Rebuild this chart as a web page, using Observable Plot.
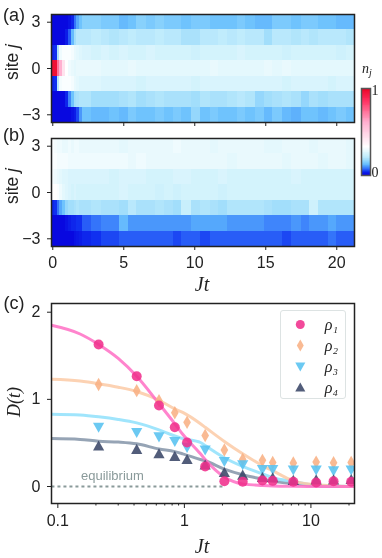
<!DOCTYPE html>
<html><head><meta charset="utf-8">
<script src="https://cdn.jsdelivr.net/npm/d3@7"></script>
<script src="https://cdn.jsdelivr.net/npm/@observablehq/plot@0.6"></script>
<style>
html,body{margin:0;padding:0;background:#fff;overflow:hidden}
#page{position:relative;width:382px;height:558px;overflow:hidden;color:#222;font-family:"Liberation Sans",sans-serif;filter:blur(.4px);background:#fff}
#page svg{position:absolute}
.lab{position:absolute;white-space:nowrap;line-height:1;transform:translate(-50%,-50%)}
.rot{transform:translate(-50%,-50%) rotate(-90deg)}
.serif{font-family:"Liberation Serif",serif;font-style:italic}
#legendBox{position:absolute;left:280px;top:310px;width:64px;height:87px;border:1.4px solid #dde3e3;border-radius:3px;background:rgba(255,255,255,.8)}
</style></head><body><div id="page">
<div class="lab" style="left:14px;top:15px;font-size:18px">(a)</div>
<div class="lab" style="left:14px;top:135px;font-size:18px">(b)</div>
<div class="lab" style="left:14px;top:303px;font-size:18px">(c)</div>
<div class="lab rot" style="left:13px;top:62px;font-size:17.5px">site <i>j</i></div>
<div class="lab rot" style="left:13px;top:186px;font-size:17.5px">site <i>j</i></div>
<div class="lab serif" style="left:202px;top:284px;font-size:20px">Jt</div>
<div class="lab rot serif" style="left:14px;top:402px;font-size:18px">D(t)</div>
<div class="lab serif" style="left:202px;top:546px;font-size:20px">Jt</div>
<div class="lab serif" style="left:367px;top:70px;font-size:14px">n<sub style="font-size:10px">j</sub></div>
<div id="legendBox"></div>
</div>
<script>
// ---- heat maps: cell edges in Jt, then one list of n_j per site
const cellEdges = [-0.1,0.1,0.3,0.5,0.7,0.9,1.1,1.3,1.5,1.7,1.9,2.1,2.7,3.4,4,4.7,5.3,5.9,6.6,7.2,7.9,8.5,9.1,9.8,10.4,11.1,11.7,12.3,13,13.6,14.3,14.9,15.5,16.2,16.8,17.5,18.1,18.7,19.4,20,20.7,21.4];
const sites = [3,2,1,0,-1,-2,-3];
const siteTicks = [3,0,-3];
const timeTicks = [0,5,10,15,20];

const a3  = [0,0,0,0,0,0,.01,.03,.07,.10,.13, .15,.15,.14,.14,.12,.13,.15,.14,.15,.14,.14,.13,.14,.14,.13,.13,.13,.14,.13,.12,.12,.14,.14,.13,.14,.14,.13,.13,.12,.12];
const a2  = [0,0,0,0,0,.02,.06,.12,.17,.2,.2, .20,.21,.20,.19,.2,.21,.2,.2,.21,.2,.2,.18,.18,.2,.2,.21,.2,.21,.2,.2,.17,.2,.2,.19,.2,.19,.2,.2,.2,.19];
const a1  = [.03,.04,.18,.29,.31,.31,.31,.3,.28,.27,.26, .25,.24,.25,.24,.25,.24,.24,.25,.24,.24,.24,.24,.23,.24,.24,.24,.24,.25,.24,.24,.24,.24,.23,.24,.24,.24,.24,.24,.23,.24];
const a0  = [.95,.95,.72,.6,.42,.32,.29,.28,.27,.28,.28, .28,.28,.27,.27,.27,.28,.27,.27,.27,.27,.27,.27,.27,.27,.28,.27,.27,.27,.27,.27,.28,.27,.28,.27,.27,.27,.27,.27,.27,.27];
const am1 = [.03,.04,.2,.3,.31,.31,.31,.3,.28,.27,.26, .26,.26,.25,.25,.25,.25,.24,.25,.25,.25,.25,.25,.24,.25,.25,.25,.25,.25,.25,.25,.25,.25,.24,.25,.25,.25,.25,.24,.25,.25];
const am2 = [0,0,0,0,0,.03,.08,.13,.17,.18,.19, .19,.17,.17,.17,.18,.19,.17,.18,.19,.18,.18,.18,.17,.19,.18,.18,.19,.2,.19,.16,.17,.18,.19,.18,.16,.18,.17,.18,.18,.18];
const am3 = [0,0,0,0,0,0,0,.01,.02,.05,.09, .13,.12,.12,.13,.12,.14,.13,.13,.14,.13,.14,.13,.16,.13,.14,.13,.13,.14,.13,.14,.12,.14,.12,.11,.13,.13,.12,.13,.14,.13];

const b3  = [.31,.3,.29,.29,.28,.28,.29,.28,.29,.29,.28, .28,.28,.28,.28,.27,.28,.28,.28,.28,.28,.29,.28,.28,.28,.27,.28,.28,.28,.28,.28,.27,.27,.28,.28,.28,.27,.28,.28,.28,.27];
const b2  = [.31,.31,.3,.3,.3,.3,.29,.29,.29,.29,.29, .29,.29,.29,.29,.29,.28,.29,.28,.28,.28,.28,.28,.28,.28,.28,.28,.27,.28,.28,.28,.28,.28,.27,.28,.28,.28,.27,.28,.28,.27];
const b1  = [.3,.29,.28,.27,.26,.26,.25,.25,.25,.25,.25, .25,.25,.25,.24,.25,.25,.25,.24,.24,.24,.25,.25,.24,.24,.24,.25,.24,.24,.24,.24,.24,.24,.24,.25,.24,.24,.24,.24,.24,.24];
const b0  = [.32,.32,.31,.29,.27,.26,.25,.24,.25,.24,.24, .24,.24,.24,.24,.25,.24,.24,.24,.23,.24,.23,.24,.24,.24,.24,.23,.24,.24,.24,.24,.24,.24,.24,.24,.24,.24,.24,.24,.24,.24];
const bm1 = [.03,.04,.07,.1,.13,.16,.17,.17,.18,.19,.18, .18,.19,.18,.18,.17,.2,.18,.18,.19,.18,.17,.22,.18,.19,.18,.17,.19,.19,.19,.19,.18,.17,.17,.18,.18,.23,.19,.19,.19,.19];
const bm2 = [0,0,0,0,0,.01,.02,.03,.03,.04,.04, .06,.07,.08,.08,.12,.09,.09,.09,.09,.09,.09,.09,.1,.1,.1,.1,.09,.09,.09,.09,.08,.08,.08,.09,.08,.09,.09,.1,.09,.09];
const bm3 = [0,0,0,0,0,0,0,0,.01,.015,.02, .03,.04,.05,.05,.06,.06,.06,.06,.06,.06,.05,.06,.06,.05,.06,.06,.06,.06,.06,.06,.06,.06,.05,.06,.06,.06,.06,.07,.06,.06];

const rowsA = [a3,a2,a1,a0,am1,am2,am3];
const rowsB = [b3,b2,b1,b0,bm1,bm2,bm3];

// ---- colour scale
const colorStops = [0,.04,.07,.10,.13,.17,.22,.27,.32,.6,.85,1];
const colorRange = ["#0808e0","#1030f0","#3474fa","#55a8fc","#6fc3fd","#a2defb","#c8effc","#e4f8fd","#ffffff","#ffb0d0","#ff3060","#e80020"];
const colorbarLevels = d3.range(0,1,0.01);
const colorbarTicks = [0,1];

// ---- panel (c) measurements
const times = [.21,.42,.63,.84,1.05,1.46,2.07,2.89,4.14,4.99,7.26,11,15.1,20.8];
const rho1 = [1.63,1.265,.93,.68,.505,.23,.06,.055,.07,.065,.055,.045,.06,.055];
const rho2 = [1.17,1.10,.985,.847,.736,.586,.42,.31,.30,.275,.27,.28,.272,.275];
const rho3 = [.68,.62,.57,.517,.45,.42,.287,.25,.195,.195,.19,.19,.18,.19];
const rho4 = [.464,.425,.376,.345,.31,.246,.16,.13,.103,.10,.07,.075,.075,.08];

// ---- panel (c) fit curves
const fitT  = [.089,.15,.21,.3,.42,.63,.84,.97,1.34,1.46,2.07,2.89,4.14,5,7.26,11,22];
const fit1  = [1.85,1.75,1.63,1.47,1.265,.95,.72,.6,.375,.31,.11,.03,.012,.006,.002,0,0];
const fit2  = [1.23,1.21,1.18,1.14,1.09,.99,.89,.85,.72,.68,.517,.375,.24,.18,.065,.02,0];
const fit3  = [.83,.82,.80,.77,.73,.65,.58,.55,.505,.47,.33,.23,.145,.10,.057,.015,0];
const fit4  = [.55,.54,.52,.51,.49,.43,.40,.375,.31,.295,.2,.135,.085,.06,.035,.01,0];

const seriesNames = ["\u03c1\u2081","\u03c1\u2082","\u03c1\u2083","\u03c1\u2084"];
const seriesColors = ["#f0308c","#f8b184","#56c2f0","#3a4768"];
const fitColors = ["#ff6ec4","#fccaa6","#8fe1fb","#8494a8"];
const eqT = [.089,2];
const eqLabel = "equilibrium";
const xTicksC = [.1,1,10];
const xMinorC = [.2,.3,.4,.5,.6,.7,.8,.9,2,3,4,5,6,7,8,9,20];
const yTicksC = [0,1,2];

// custom marker outlines
const thinDiamond = {draw(c,s){const r=Math.sqrt(s/Math.PI);c.moveTo(0,-r*1.4);c.lineTo(r*.8,0);c.lineTo(0,r*1.4);c.lineTo(-r*.8,0);c.closePath();}};
const triUp = {draw(c,s){const r=Math.sqrt(s/Math.PI);c.moveTo(0,-r);c.lineTo(r,r*.8);c.lineTo(-r,r*.8);c.closePath();}};
const triDown = {draw(c,s){const r=Math.sqrt(s/Math.PI);c.moveTo(0,r);c.lineTo(r,-r*.8);c.lineTo(-r,-r*.8);c.closePath();}};
const markers = ["circle",thinDiamond,triDown,triUp];
const markerR = [5,4.8,5.6,5.6];

const page = document.getElementById("page");
const sans = '"Liberation Sans",sans-serif';
const tickFont = 16;
const baseStyle = {fontFamily:sans,fontSize:"16px",color:"#222",background:"transparent",overflow:"visible"};
function place(svg,left,top){svg.style.left=left+"px";svg.style.top=top+"px";page.appendChild(svg);}

function heat(rows,withLabels){
  const cells = rows.flatMap((vals,r)=>vals.map((n,i)=>({x1:cellEdges[i],x2:cellEdges[i+1],site:sites[r],n})));
  return Plot.plot({
    width:382,height:134,marginLeft:51,marginRight:28,marginTop:14,marginBottom:12,
    style:baseStyle,
    x:{domain:[-0.09,21.25]},
    y:{domain:[-3.5,3.5]},
    color:{type:"linear",domain:colorStops,range:colorRange,clamp:true},
    marks:[
      Plot.rect(cells,{x1:"x1",x2:"x2",y1:d=>d.site-.5,y2:d=>d.site+.5,fill:"n",shapeRendering:"crispEdges",clip:true}),
      Plot.frame({stroke:"#222",strokeWidth:1.5}),
      Plot.axisX({ticks:timeTicks,tickSize:4,tickPadding:6,label:null,fontSize:tickFont,tickFormat:withLabels?(d=>String(d)):()=>""}),
      Plot.axisY({ticks:siteTicks,tickSize:4,tickPadding:7,label:null,fontSize:tickFont,tickFormat:d=>d<0?"\u2212"+(-d):String(d)})
    ]
  });
}
place(heat(rowsA,false),0,0);
place(heat(rowsB,true),0,124);

// colour bar
place(Plot.plot({
  width:30,height:105,marginLeft:6,marginRight:15,marginTop:8,marginBottom:10,
  style:{...baseStyle,fontFamily:'"Liberation Serif",serif',fontSize:"14px"},
  x:{domain:[0,1],axis:null},
  y:{domain:[0,1]},
  color:{type:"linear",domain:colorStops,range:colorRange,clamp:true},
  marks:[
    Plot.rect(colorbarLevels,{x1:0,x2:1,y1:d=>d,y2:d=>d+.01,fill:d=>d,shapeRendering:"crispEdges"}),
    Plot.frame({stroke:"#555",strokeWidth:1.5}),
    Plot.axisY({anchor:"right",ticks:[colorbarTicks[1]],tickSize:0,tickPadding:1,label:null,dy:2,fontSize:14,tickFormat:d=>String(d)}),
    Plot.axisY({anchor:"right",ticks:[colorbarTicks[0]],tickSize:0,tickPadding:1,label:null,dy:-3,fontSize:14,tickFormat:d=>String(d)})
  ]
}),355,80);

// panel (c)
const pts = (ys)=>times.map((t,i)=>({t,y:ys[i]}));
const fits = (ys)=>fitT.map((t,i)=>({t,y:ys[i]}));
const allFits = [fit4,fit3,fit2,fit1];
const drawOrder = [1,2,3,0];
const allRho = [rho1,rho2,rho3,rho4];
place(Plot.plot({
  width:382,height:530,marginLeft:51,marginRight:28,marginTop:303,marginBottom:27,
  style:baseStyle,
  x:{type:"log",domain:[.0891,22.1]},
  y:{domain:[-.195,2.1]},
  marks:[
    Plot.line(eqT.map(t=>({t,y:0})),{x:"t",y:"y",stroke:"#8a9a9a",strokeWidth:2.2,strokeDasharray:"3,3",strokeLinecap:"butt"}),
    Plot.text([{t:.27,y:.12}],{x:"t",y:"y",text:()=>eqLabel,fill:"#8a9a9a",fontSize:13}),
    ...allFits.map((ys,k)=>Plot.line(fits(ys),{x:"t",y:"y",stroke:fitColors[3-k],strokeWidth:3,strokeOpacity:.85,curve:"monotone-x",clip:true})),
    ...drawOrder.map(k=>Plot.dot(pts(allRho[k]),{x:"t",y:"y",symbol:markers[k],r:markerR[k],fill:seriesColors[k],fillOpacity:.88,clip:true})),
    Plot.frame({stroke:"#222",strokeWidth:1.5}),
    Plot.axisX({ticks:xMinorC,tickSize:2.5,tickFormat:()=>"",label:null}),
    Plot.axisX({ticks:xTicksC,tickSize:5,tickPadding:6,fontSize:tickFont,tickFormat:d=>String(d),label:null}),
    Plot.axisY({ticks:yTicksC,tickSize:4,tickPadding:7,fontSize:tickFont,tickFormat:d=>String(d),label:null})
  ]
}),0,0);

// legend
const legendRows = seriesNames.map((name,k)=>({name,k}));
const legendSvg = Plot.plot({
  width:66,height:89,marginLeft:0,marginRight:0,marginTop:14,marginBottom:12,
  style:{...baseStyle,fontFamily:'"Liberation Serif",serif',fontStyle:"italic"},
  x:{domain:[0,1],axis:null},
  y:{type:"point",domain:seriesNames,padding:0,axis:null},
  marks:legendRows.map(d=>Plot.dot([d],{x:()=>.3,y:"name",symbol:markers[d.k],r:markerR[d.k]*.9,fill:seriesColors[d.k],fillOpacity:.88}))
    .concat(Plot.text(legendRows,{x:()=>.67,y:"name",text:"name",textAnchor:"start",fontSize:16,fill:"#222"}))
});
place(legendSvg,280,310);
</script></body></html>
